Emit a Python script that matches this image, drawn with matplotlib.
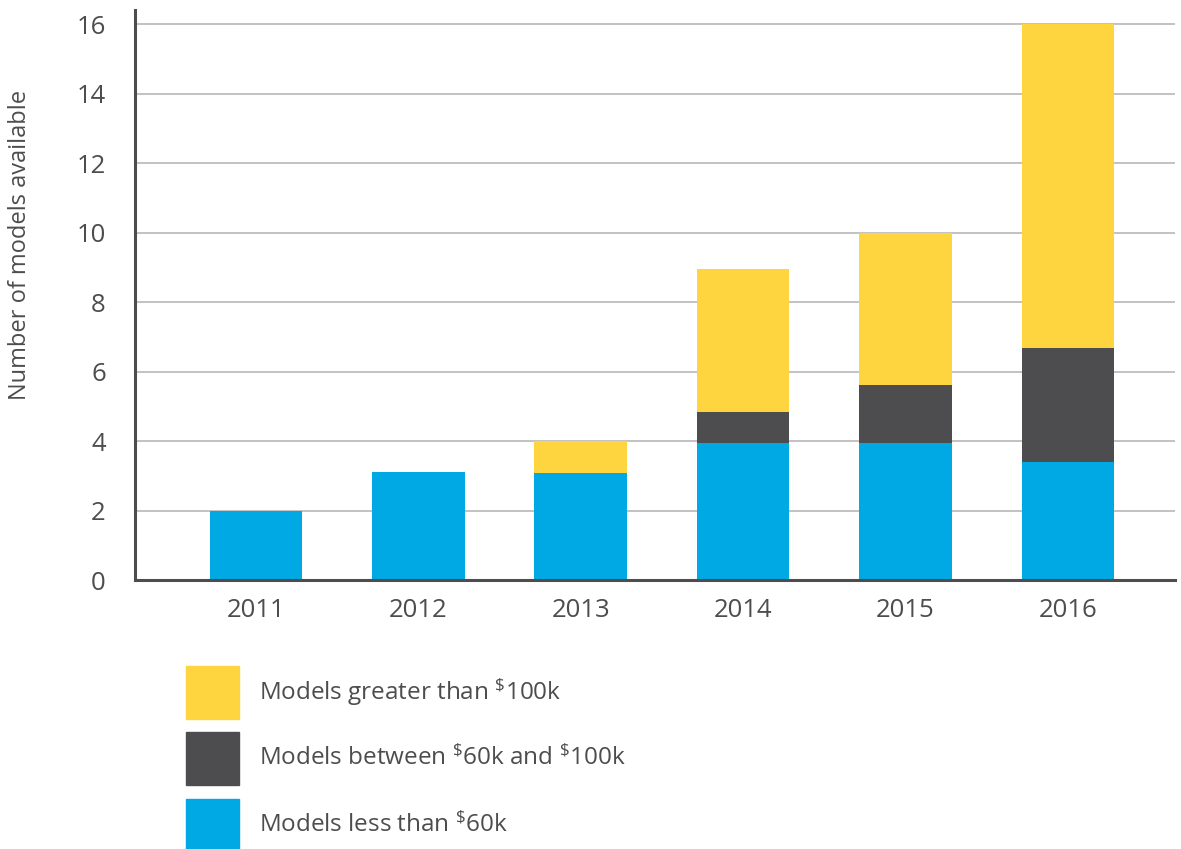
import matplotlib
matplotlib.use("Agg")
import matplotlib.pyplot as plt
from matplotlib.patches import Rectangle
import numpy as np

#----Data
years = ["2011", "2012", "2013", "2014", "2015", "2016"]
less_60k = [2.0, 3.1, 3.07, 3.95, 3.95, 3.4]
between_60_100k = [0.0, 0.0, 0.0, 0.89, 1.67, 3.29]
greater_100k = [0.0, 0.0, 0.93, 4.12, 4.38, 9.31]

legend_labels = [
    r"Models greater than $\mathregular{^{\$}}$100k",
    r"Models between $\mathregular{^{\$}}$60k and $\mathregular{^{\$}}$100k",
    r"Models less than $\mathregular{^{\$}}$60k",
]
colors = ["#FED53E", "#4D4D4F", "#00A9E4"]
text_color = "#4D4D4F"

plt.rcParams["font.family"] = ["Open Sans", "DejaVu Sans"]
plt.rcParams["mathtext.fontset"] = "custom"
plt.rcParams["mathtext.rm"] = "Open Sans"

fig = plt.figure(figsize=(11.81, 8.49), dpi=100)
ax = fig.add_axes([0.1143, 0.3168, 0.8807, 0.6712])

x = np.arange(len(years))
w = 0.57
blue = np.array(less_60k)
dark = np.array(between_60_100k)
yellow = np.array(greater_100k)

ax.bar(x, blue, w, color=colors[2], zorder=3)
ax.bar(x, dark, w, bottom=blue, color=colors[1], zorder=3)
ax.bar(x, yellow, w, bottom=blue + dark, color=colors[0], zorder=3)

ax.set_xlim(-0.745, 5.66)
ax.set_ylim(0, 16.4)
ax.set_yticks(range(0, 17, 2))
ax.set_xticks(x)
ax.set_xticklabels(years)
ax.yaxis.grid(True, color="#BDBDBD", linewidth=1.3, zorder=0)
ax.set_axisbelow(True)

for s in ["top", "right"]:
    ax.spines[s].set_visible(False)
for s in ["left", "bottom"]:
    ax.spines[s].set_color(text_color)
    ax.spines[s].set_linewidth(2.2)
ax.spines["bottom"].set_zorder(4)

ax.tick_params(axis="both", length=0, labelsize=18.5, colors=text_color)
ax.tick_params(axis="y", pad=21)
ax.tick_params(axis="x", pad=13)

fig.text(20 / 1181, 1 - 245 / 849, "Number of models available", rotation=90,
         ha="center", va="center", fontsize=17, color=text_color)

#----Legend (manual)
sq_w, sq_h = 53 / 1181, 53 / 849
sq_x = 186 / 1181
tops = [666, 732, 799]
for top, col, lab in zip(tops, colors, legend_labels):
    y0 = 1 - (top + 53) / 849
    fig.add_artist(Rectangle((sq_x, y0), sq_w, sq_h, color=col,
                             transform=fig.transFigure))
    fig.text(259 / 1181, y0 + sq_h / 2, lab, ha="left", va="center",
             fontsize=17.5, color=text_color)

fig.savefig("out.png", dpi=100)
